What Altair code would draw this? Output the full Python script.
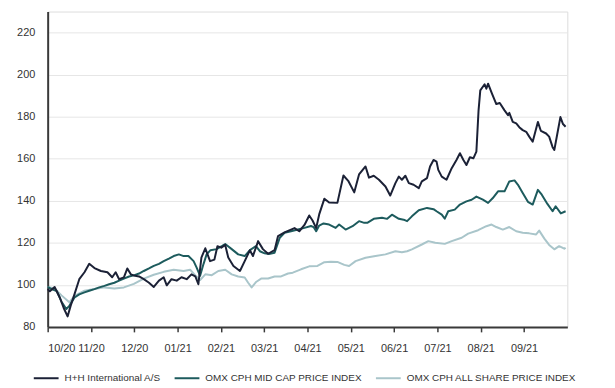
import altair as alt
import pandas as pd

month_labels = ["10/20", "11/20", "12/20", "01/21", "02/21", "03/21",
                "04/21", "05/21", "06/21", "07/21", "08/21", "09/21"]
y_ticks = [80, 100, 120, 140, 160, 180, 200, 220]

series_names = ["H+H International A/S", "OMX CPH MID CAP PRICE INDEX",
                "OMX CPH ALL SHARE PRICE INDEX"]
series_colors = ["#1b2136", "#1d5b5d", "#a9c5ca"]

# H+H International A/S (months since 10/20, indexed value)
hh_t = [0.00, 0.05, 0.16, 0.28, 0.37, 0.46, 0.53, 0.62, 0.73, 0.85, 0.96, 1.08,
        1.23, 1.38, 1.49, 1.57, 1.65, 1.76, 1.84, 1.92, 1.99, 2.11, 2.22, 2.34,
        2.45, 2.57, 2.68, 2.75, 2.86, 2.98, 3.09, 3.21, 3.32, 3.41, 3.48, 3.55,
        3.64, 3.75, 3.85, 3.92, 4.01, 4.10, 4.17, 4.29, 4.44, 4.55, 4.67, 4.74,
        4.86, 4.97, 5.09, 5.24, 5.32, 5.47, 5.70, 5.81, 5.93, 6.04, 6.12, 6.20,
        6.27, 6.39, 6.50, 6.69, 6.83, 6.94, 7.08, 7.19, 7.34, 7.42, 7.53, 7.65,
        7.80, 7.91, 8.03, 8.11, 8.18, 8.26, 8.34, 8.45, 8.57, 8.64, 8.76, 8.83,
        8.91, 8.98, 9.02, 9.10, 9.21, 9.33, 9.44, 9.52, 9.60, 9.67, 9.75, 9.83,
        9.90, 9.95, 9.99, 10.09, 10.13, 10.17, 10.26, 10.36, 10.44, 10.55, 10.63,
        10.66, 10.74, 10.82, 10.89, 10.97, 11.05, 11.12, 11.20, 11.32, 11.39,
        11.51, 11.58, 11.66, 11.70, 11.77, 11.84, 11.90, 11.96]
hh_v = [98.0, 97.0, 99.0, 94.0, 89.0, 85.0, 90.0, 95.6, 102.7, 106.0, 110.0, 108.0,
        106.6, 106.0, 103.6, 106.0, 102.7, 103.6, 107.8, 105.0, 104.5, 104.0, 102.7, 101.0,
        99.0, 102.0, 103.6, 99.8, 102.7, 102.0, 103.6, 102.7, 105.0, 104.0, 100.3, 113.0,
        117.4, 111.3, 112.0, 118.4, 117.7, 119.0, 113.0, 109.0, 106.6, 111.3, 116.5, 113.7,
        120.8, 117.0, 114.8, 116.5, 123.2, 125.0, 127.0, 125.5, 128.5, 133.0, 130.5, 127.0,
        133.5, 141.0, 139.2, 139.0, 152.0, 149.5, 144.0, 152.5, 156.3, 151.0, 151.9, 150.0,
        146.8, 142.5, 148.4, 151.5, 150.0, 151.9, 148.4, 147.6, 146.0, 149.2, 150.8, 156.3,
        159.4, 158.6, 154.7, 151.5, 150.0, 155.5, 159.4, 162.6, 159.4, 157.0, 160.7, 160.2,
        163.4, 183.0, 192.5, 195.4, 193.3, 195.7, 191.0, 186.0, 186.5, 183.0, 180.7,
        181.8, 177.5, 176.8, 175.0, 173.6, 172.8, 170.5, 168.1, 177.5, 173.2,
        172.0, 170.5, 165.5, 164.2, 172.0, 179.8, 176.5, 175.2]

# OMX CPH MID CAP PRICE INDEX
mid_t = [0.00, 0.09, 0.21, 0.32, 0.43, 0.50, 0.62, 0.73, 0.85, 0.96, 1.08, 1.19,
         1.31, 1.42, 1.54, 1.65, 1.76, 1.88, 1.99, 2.11, 2.22, 2.34, 2.45, 2.57,
         2.68, 2.80, 2.91, 3.03, 3.14, 3.25, 3.37, 3.44, 3.52, 3.60, 3.67, 3.76,
         3.90, 4.02, 4.10, 4.25, 4.40, 4.55, 4.67, 4.81, 4.90, 5.01, 5.11, 5.24,
         5.36, 5.47, 5.62, 5.78, 5.93, 6.08, 6.14, 6.20, 6.27, 6.37, 6.50, 6.65,
         6.73, 6.88, 7.04, 7.19, 7.31, 7.38, 7.53, 7.72, 7.84, 7.95, 8.11, 8.22,
         8.30, 8.41, 8.57, 8.76, 8.91, 8.98, 9.10, 9.17, 9.25, 9.40, 9.52, 9.67,
         9.79, 9.90, 10.05, 10.17, 10.28, 10.40, 10.55, 10.66, 10.78, 10.86, 10.97,
         11.09, 11.20, 11.32, 11.41, 11.54, 11.66, 11.73, 11.85, 11.96]
mid_v = [99.0, 98.0, 97.0, 92.0, 88.5, 90.0, 94.0, 95.5, 96.4, 97.2, 98.0, 98.8,
         99.5, 100.3, 101.0, 102.0, 103.0, 104.0, 104.5, 105.4, 106.6, 107.8, 109.0, 110.0,
         111.3, 112.5, 113.7, 114.5, 113.7, 113.7, 111.3, 108.2, 104.3, 110.0, 114.5, 116.5,
         117.0, 118.4, 119.4, 117.0, 114.5, 113.7, 116.5, 118.4, 116.0, 115.0, 114.7, 115.3,
         122.4, 124.8, 125.5, 126.3, 127.1, 128.0, 127.5, 125.5, 128.2, 129.2, 128.7, 127.1,
         128.7, 126.3, 127.9, 130.3, 129.5, 129.5, 131.4, 131.9, 131.4, 133.4, 131.4, 131.0,
         130.3, 132.6, 135.5, 136.6, 136.0, 135.0, 133.4, 131.5, 135.0, 135.8, 138.2, 139.7,
         140.5, 142.0, 140.5, 139.0, 141.3, 144.5, 144.5, 149.2, 149.7, 147.6, 143.7,
         139.5, 138.2, 145.2, 142.9, 138.5, 135.0, 137.4, 134.0, 135.0]

# OMX CPH ALL SHARE PRICE INDEX
all_t = [0.00, 0.16, 0.32, 0.50, 0.62, 0.73, 0.85, 1.08, 1.31, 1.54, 1.76, 1.99,
         2.22, 2.45, 2.68, 2.91, 3.14, 3.29, 3.41, 3.52, 3.64, 3.79, 3.94, 4.10,
         4.25, 4.40, 4.55, 4.63, 4.71, 4.82, 4.93, 5.09, 5.24, 5.39, 5.55, 5.66,
         5.85, 6.04, 6.23, 6.39, 6.54, 6.69, 6.85, 6.96, 7.11, 7.34, 7.57, 7.80,
         8.03, 8.18, 8.30, 8.41, 8.64, 8.79, 8.95, 9.17, 9.33, 9.56, 9.71, 9.94,
         10.13, 10.25, 10.36, 10.51, 10.66, 10.82, 10.97, 11.12, 11.28, 11.35,
         11.47, 11.58, 11.70, 11.81, 11.93, 11.96]
all_v = [99.0, 98.3, 95.0, 91.7, 94.8, 96.0, 97.2, 98.0, 98.8, 98.3, 98.8, 100.5,
         103.0, 104.8, 106.2, 107.2, 106.6, 107.2, 104.5, 102.3, 105.0, 104.6, 106.6, 107.2,
         105.0, 104.0, 103.5, 101.0, 98.8, 101.5, 103.0, 103.0, 104.0, 104.0, 105.4, 105.8,
         107.4, 108.8, 109.0, 110.8, 111.0, 110.9, 109.5, 109.0, 111.3, 112.9, 113.7, 114.5,
         116.0, 115.5, 116.0, 116.9, 119.2, 120.8, 120.0, 119.5, 120.8, 122.4, 124.4, 126.0,
         127.9, 128.7, 127.5, 126.3, 127.5, 125.5, 124.8, 124.5, 124.0, 125.8,
         122.0, 119.0, 116.9, 118.4, 117.2, 117.7]

rows = []
for name, ts, vs in [(series_names[2], all_t, all_v),
                     (series_names[1], mid_t, mid_v),
                     (series_names[0], hh_t, hh_v)]:
    for t, v in zip(ts, vs):
        rows.append({"series": name, "t": t, "v": v})
df = pd.DataFrame(rows)

FONT = "Liberation Sans"
label_expr = "[" + ",".join("'" + m + "'" for m in month_labels) + "][datum.value]"

chart = alt.Chart(df).mark_line(strokeWidth=2, strokeJoin="round").encode(
    x=alt.X("t:Q",
            scale=alt.Scale(domain=[0, 12], nice=False, zero=False),
            axis=alt.Axis(values=list(range(len(month_labels))), labelExpr=label_expr,
                          title=None, grid=False, domainColor="#3a3a3a", domainWidth=2,
                          tickColor="#3a3a3a", tickSize=5, tickWidth=1.5,
                          labelPadding=11, labelFontSize=11, labelColor="#333333",
                          labelFont=FONT, labelOverlap=False)),
    y=alt.Y("v:Q",
            scale=alt.Scale(domain=[80, 230], nice=False, zero=False),
            axis=alt.Axis(values=y_ticks, title=None, ticks=False,
                          domainColor="#3a3a3a", domainWidth=2,
                          gridColor="#e6e6e6", gridWidth=1,
                          labelPadding=13, labelFontSize=11, labelColor="#333333",
                          labelFont=FONT, labelOverlap=False)),
    color=alt.Color("series:N",
                    scale=alt.Scale(domain=series_names, range=series_colors),
                    legend=alt.Legend(title=None, orient="none", legendX=-15, legendY=356,
                                      direction="horizontal", symbolType="stroke",
                                      symbolSize=625, symbolStrokeWidth=2,
                                      labelFontSize=10, labelFont=FONT,
                                      labelColor="#333333", columnPadding=10,
                                      labelOffset=5, labelLimit=300)),
).properties(
    width=524, height=318,
    autosize=alt.AutoSizeParams(type="none"),
    padding={"left": 40, "top": 2, "right": 40, "bottom": 58},
).configure_view(stroke=None).configure(background="white")

chart.save("out.html", embed_options={"renderer": "svg", "actions": False})
